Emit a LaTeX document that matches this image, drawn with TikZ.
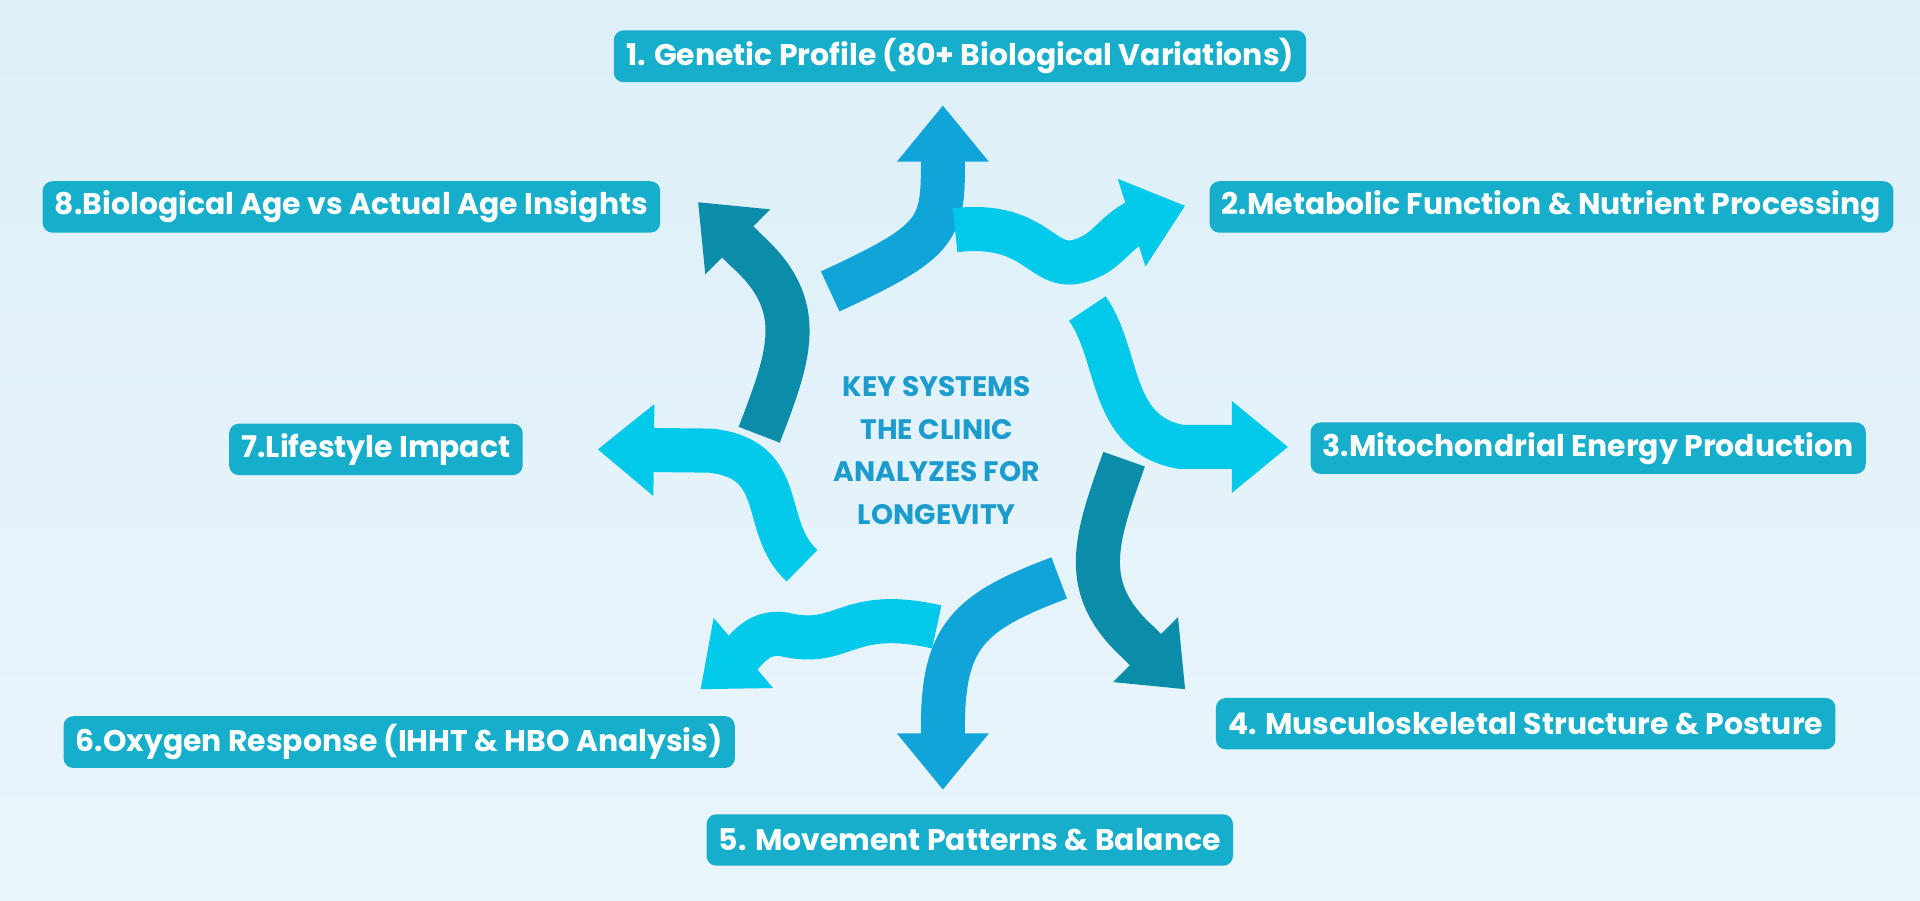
\documentclass[tikz,border=0pt]{standalone}
\usepackage{fontspec}
\setmainfont{Poppins}
\usetikzlibrary{arrows.meta}
\definecolor{boxc}{HTML}{17AECB}
\definecolor{midb}{HTML}{10A4D9}
\definecolor{cyanb}{HTML}{00C9E9}
\definecolor{darkt}{HTML}{0B8CA9}
\definecolor{ctext}{HTML}{1B9CCC}
\definecolor{bgtop}{HTML}{DDEFF9}
\definecolor{bgbot}{HTML}{EAF5FB}
\begin{document}
\begin{tikzpicture}[x=0.5pt,y=-0.5pt,
  lab/.style={fill=boxc,rounded corners=4pt,text=white,font=\fontsize{12.2}{14}\selectfont\bfseries,inner xsep=5pt,minimum height=21pt},
  wave/.style={line width=18pt,-{Triangle[width=36pt,length=23pt]}}]
\shade[top color=bgtop,bottom color=bgbot] (0,0) rectangle (1568,735);
\useasboundingbox (0,0) rectangle (1568,735);
\node[lab] (l1) at (784,46) {1. Genetic Profile (80+ Biological Variations)};
\node[lab] (l8) at (287,169) {8.Biological Age vs Actual Age Insights};
\node[lab] (l2) at (1267,169) {2.Metabolic Function \& Nutrient Processing};
\node[lab] (l7) at (307,367) {7.Lifestyle Impact};
\node[lab] (l3) at (1297,366) {3.Mitochondrial Energy Production};
\node[lab] (l4) at (1246,591) {4. Musculoskeletal Structure \& Posture};
\node[lab] (l6) at (326,606) {6.Oxygen Response (IHHT \& HBO Analysis)};
\node[lab] (l5) at (792,686) {5. Movement Patterns \& Balance};
\node[text=ctext,align=center,font=\fontsize{11.5}{17.5}\selectfont\bfseries] (c) at (765,368) {KEY SYSTEMS\\THE CLINIC\\ANALYZES FOR\\LONGEVITY};
\coordinate (s1) at (678,238); \coordinate (t1) at (770,86);
\coordinate (s2) at (780,188); \coordinate (t2) at (968,168);
\coordinate (s3) at (888,252); \coordinate (t3) at (1052,365);
\coordinate (s4) at (918,375); \coordinate (t4) at (968,563);
\coordinate (s5) at (865,472); \coordinate (t5) at (770,645);
\coordinate (s6) at (765,512); \coordinate (t6) at (572,563);
\coordinate (s7) at (655,462); \coordinate (t7) at (488,367);
\coordinate (s8) at (620,355); \coordinate (t8) at (570,165);
\draw[wave,midb] (s1) .. controls (760,200) and (770,190) .. (770,140) -- (t1);
\draw[wave,cyanb] (s2) .. controls (850,180) and (850,225) .. (885,212) .. controls (905,205) and (910,190) .. (930,180) -- (t2);
\draw[wave,cyanb] (s3) .. controls (915,290) and (905,355) .. (965,365) -- (t3);
\draw[wave,darkt] (s4) .. controls (895,440) and (880,480) .. (930,525) -- (t4);
\draw[wave,midb] (s5) .. controls (790,500) and (770,520) .. (770,595) -- (t5);
\draw[wave,cyanb] (s6) .. controls (690,495) and (690,530) .. (640,518) .. controls (620,515) and (610,530) .. (605,535) -- (t6);
\draw[wave,cyanb] (s7) .. controls (620,430) and (645,375) .. (580,368) -- (t7);
\draw[wave,darkt] (s8) .. controls (645,290) and (660,250) .. (610,205) -- (t8);
\end{tikzpicture}
\end{document}
